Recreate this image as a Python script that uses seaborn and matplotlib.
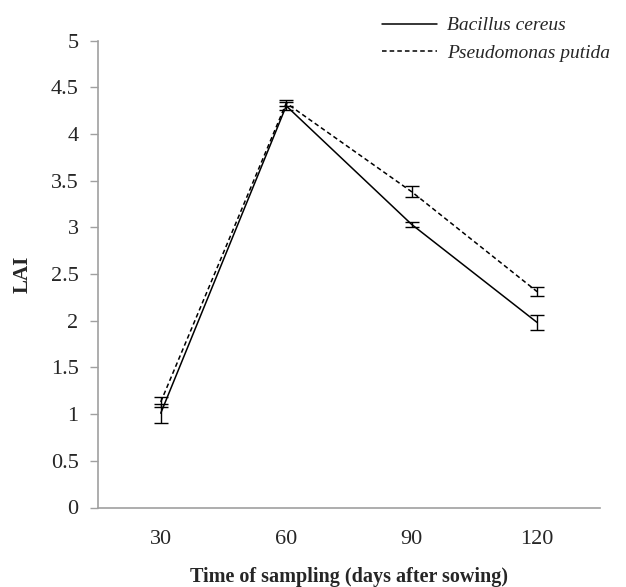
import matplotlib
matplotlib.use("Agg")
import matplotlib.pyplot as plt
import seaborn as sns
import pandas as pd
import numpy as np

days = ["30", "60", "90", "120"]
bacillus = [1.01, 4.30, 3.03, 1.98]
bacillus_err = [0.10, 0.04, 0.03, 0.08]
pseudomonas = [1.13, 4.33, 3.38, 2.31]
pseudomonas_err = [0.05, 0.03, 0.06, 0.05]
series_names = ["Bacillus cereus", "Pseudomonas putida"]

sns.set_theme(style="white")
plt.rcParams["font.family"] = ["Liberation Serif", "DejaVu Serif"]

df = pd.DataFrame({
    "day": days * 2,
    "pos": list(range(len(days))) * 2,
    "LAI": bacillus + pseudomonas,
    "err": bacillus_err + pseudomonas_err,
    "series": [series_names[0]] * len(days) + [series_names[1]] * len(days),
})

fig = plt.figure(figsize=(6.26, 5.87), dpi=100)
ax = fig.add_axes([98 / 626, (587 - 507.5) / 587, (600 - 98) / 626, (507.5 - 40.5) / 587])

sns.lineplot(data=df, x="pos", y="LAI", hue="series", style="series",
             palette=["black", "black"], dashes=[(None, None), (3, 2)],
             linewidth=1.1, ax=ax, legend=True)

for name, vals, errs in [(series_names[0], bacillus, bacillus_err),
                         (series_names[1], pseudomonas, pseudomonas_err)]:
    ax.errorbar(range(len(days)), vals, yerr=errs, fmt="none", ecolor="black",
                elinewidth=1.0, capsize=5, capthick=1.0)

ax.set_xlim(-0.5, 3.5)
ax.set_ylim(0, 5)
ax.set_yticks(np.arange(0, 5.01, 0.5))
ax.set_yticklabels(["0", "0.5", "1", "1.5", "2", "2.5", "3", "3.5", "4", "4.5", "5"])
ax.set_xticks(range(len(days)))
ax.set_xticklabels(days)
ax.tick_params(axis="y", length=6, width=1, color="#a0a0a0", direction="out",
               labelsize=16, pad=8, left=True)
ax.tick_params(axis="x", length=0, labelsize=16, pad=16)
for s in ["top", "right"]:
    ax.spines[s].set_visible(False)
for s in ["left", "bottom"]:
    ax.spines[s].set_color("#a0a0a0")
    ax.spines[s].set_linewidth(1.2)

ax.set_xlabel("Time of sampling (days after sowing)", fontsize=14.5, fontweight="bold", labelpad=13)
ax.set_ylabel("LAI", fontsize=15, fontweight="bold", labelpad=13)

handles, labels = ax.get_legend_handles_labels()
leg = ax.legend(handles, labels, loc="upper left", bbox_to_anchor=(374 / 626, 1 - 9 / 587),
                bbox_transform=fig.transFigure, frameon=False,
                prop={"family": "Liberation Serif", "style": "italic", "size": 14},
                handlelength=2.85, handletextpad=0.5, labelspacing=0.5, borderaxespad=0)

fig.savefig("out.png", dpi=100)
